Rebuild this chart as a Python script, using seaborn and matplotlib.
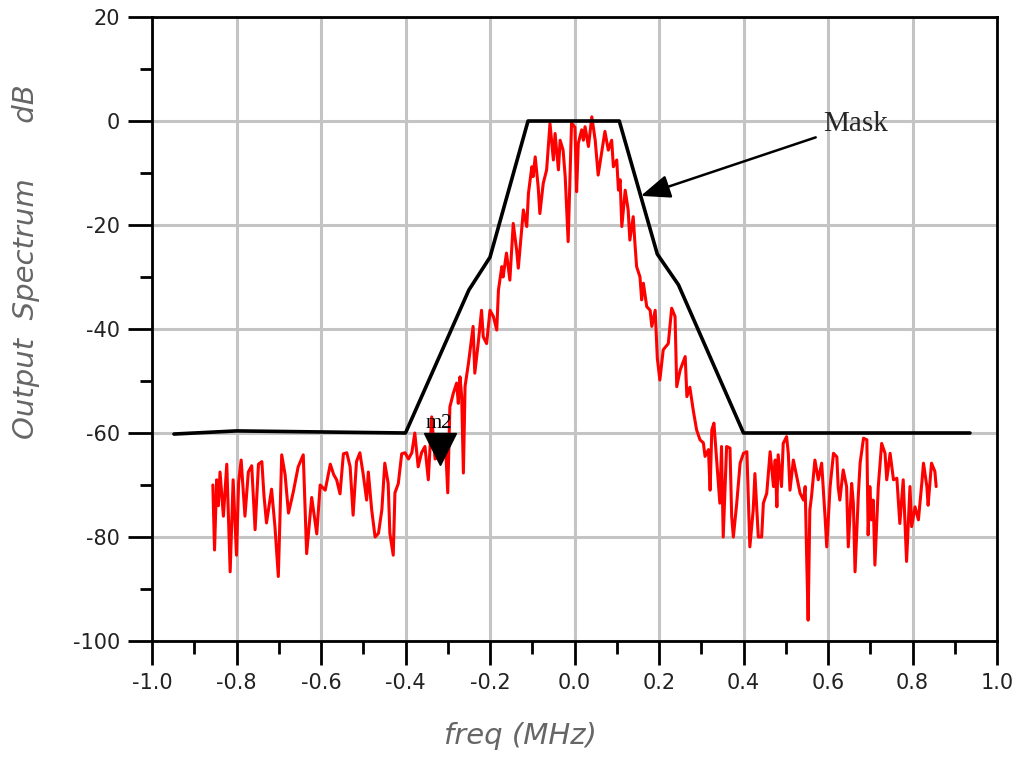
import numpy as np
import pandas as pd
import matplotlib
matplotlib.use("Agg")
import matplotlib.pyplot as plt
from matplotlib.ticker import MultipleLocator, FormatStrFormatter
import seaborn as sns

# ---------------- data ----------------
trace_freq = [
    -0.856, -0.852, -0.847, -0.843, -0.839, -0.831, -0.823, -0.815, -0.808, -0.800,
    -0.795, -0.789, -0.780, -0.772, -0.764, -0.756, -0.748, -0.740, -0.735, -0.729,
    -0.717, -0.709, -0.701, -0.693, -0.685, -0.677, -0.666, -0.654, -0.642, -0.634,
    -0.622, -0.610, -0.602, -0.590, -0.578, -0.570,
    -0.563, -0.555, -0.547, -0.539, -0.531, -0.524, -0.516, -0.508, -0.500, -0.492,
    -0.488, -0.480, -0.472, -0.464, -0.456, -0.449, -0.441, -0.437, -0.429, -0.425,
    -0.417, -0.409, -0.401, -0.393, -0.385, -0.378, -0.370, -0.362, -0.354, -0.346,
    -0.338, -0.330, -0.322, -0.314, -0.306, -0.300,
    -0.295, -0.287, -0.279, -0.275, -0.271, -0.267, -0.263, -0.259, -0.251, -0.243,
    -0.240, -0.236, -0.228, -0.220, -0.216, -0.208, -0.200, -0.192, -0.184, -0.180,
    -0.172, -0.169, -0.161, -0.153, -0.145, -0.137, -0.133, -0.125, -0.121, -0.113,
    -0.109, -0.101, -0.098, -0.093, -0.086, -0.082, -0.074, -0.066, -0.058, -0.050,
    -0.046, -0.038, -0.034, -0.027, -0.022, -0.015, -0.007,
    0.001, 0.005, 0.009, 0.017, 0.021, 0.025, 0.033, 0.041, 0.049, 0.056,
    0.064, 0.072, 0.080, 0.088, 0.092, 0.100, 0.104, 0.108, 0.112, 0.120,
    0.127, 0.131, 0.139, 0.143, 0.147, 0.155, 0.159, 0.163, 0.171, 0.179,
    0.183, 0.191, 0.196, 0.202, 0.210, 0.222, 0.230, 0.238, 0.242, 0.250,
    0.262, 0.266, 0.273,
    0.281, 0.289, 0.297, 0.305, 0.309, 0.317, 0.321, 0.325, 0.330, 0.337,
    0.344, 0.348, 0.352, 0.360, 0.368, 0.372, 0.376, 0.384, 0.392, 0.400,
    0.408, 0.411, 0.415, 0.423, 0.427, 0.435, 0.443, 0.447, 0.455, 0.463,
    0.471, 0.475, 0.479, 0.482, 0.490, 0.494, 0.502, 0.506, 0.510, 0.518,
    0.526, 0.534, 0.542, 0.546, 0.550, 0.553, 0.557,
    0.561, 0.569, 0.577, 0.585, 0.593, 0.597, 0.605, 0.613, 0.621, 0.624,
    0.628, 0.636, 0.644, 0.648, 0.656, 0.660, 0.664, 0.672, 0.676, 0.684,
    0.692, 0.695, 0.699, 0.703, 0.707, 0.711, 0.719, 0.727, 0.735, 0.739,
    0.747, 0.755, 0.763, 0.770, 0.778, 0.786, 0.794, 0.798, 0.806, 0.814,
    0.822, 0.826, 0.834, 0.837, 0.845, 0.853, 0.856,
]
trace_db = [
    -70, -82.5, -69, -74, -67.5, -76, -66, -86.7, -69, -83.5,
    -69.5, -65.2, -76, -67.5, -66.3, -78.6, -66, -65.5, -72, -77.3,
    -70.8, -78, -87.6, -64.2, -68, -75.4, -71.5, -66.5, -64.2, -83.2,
    -72.4, -79.4, -70, -71, -66, -68,
    -69, -71.7, -64, -63.8, -66.5, -75.8, -65.5, -63.8, -68, -72.9,
    -67.5, -74.8, -80, -79.3, -74.8, -65.8, -69.7, -79.3, -83.5, -71.5,
    -69.7, -64, -63.8, -65, -63.8, -60, -66.5, -63.8, -62.6, -69,
    -56.9, -65, -64.5, -63, -61, -71.5,
    -55, -52.4, -50.4, -54.3, -49.2, -53, -67.7, -51, -46.6, -41.5,
    -39.5, -48.5, -42.8, -36.4, -41.5, -42.8, -36.4, -37.6, -40.2, -32.5,
    -28, -30, -25.4, -30.6, -19.7, -24.8, -28.3, -20.9, -17.1, -20.3,
    -13.9, -8.8, -10.7, -6.9, -12.6, -17.8, -12, -9.4, -0.5, -7.5,
    -2.4, -9.4, -3.7, -5.6, -10.7, -23.2, -0.4,
    -1.2, -13.6, -4.3, -1.7, -3.7, -1.1, -4.9, 0.8, -3.7, -10.4,
    -6.2, -2, -5.6, -3.7, -8.8, -7.5, -13.3, -11.3, -20.3, -13.3,
    -17.1, -22.9, -18.4, -23.5, -28, -30, -34.4, -31.2, -35.7, -36.4,
    -39.5, -36.4, -45.6, -49.8, -44, -42.8, -36, -37.6, -51.1, -47.9,
    -45.3, -53, -51.2,
    -55.6, -59.4, -61.3, -61.9, -64.5, -63.2, -71, -59.4, -58.1, -65.8,
    -73.5, -62.6, -80, -62.6, -62.9, -76, -80, -73.5, -65.8, -63.9,
    -63.6, -71.6, -81.9, -74.8, -67.8, -80, -80, -73.5, -71.6, -63.6,
    -70.3, -65.2, -74.2, -64.2, -70.3, -62, -60.7, -63.9, -71, -65.2,
    -68.4, -71.6, -72.9, -70.3, -85.7, -96, -74.8,
    -72.2, -65.2, -69, -65.8, -76.1, -81.9, -70.3, -63.9, -64.6, -70.3,
    -72.9, -67.1, -70.3, -81.9, -69.7, -73.5, -86.7, -71.6, -65.8, -61,
    -61.3, -79.6, -70.3, -76.7, -72.9, -85.4, -70.3, -62, -63.9, -69,
    -63.9, -69, -68.7, -77.4, -69, -84.7, -70.3, -78, -74.2, -76.7,
    -69.7, -65.8, -70.3, -73.9, -65.8, -67.4, -70.3,
]

mask_freq = [-0.948, -0.8, -0.4, -0.25, -0.2, -0.11, 0.106, 0.196, 0.246, 0.4, 0.936]
mask_db = [-60.2, -59.6, -60, -32.5, -26.2, 0, 0, -25.6, -31.5, -60, -60]

marker_freq = [-0.318]
marker_db = [-63.0]
marker_label = "m2"

arrow_tip = (0.157, -14.4)
arrow_text_pos = (0.588, -0.6)
arrow_label = "Mask"

x_ticks = [-1.0, -0.8, -0.6, -0.4, -0.2, 0.0, 0.2, 0.4, 0.6, 0.8, 1.0]
y_ticks = [-100, -80, -60, -40, -20, 0, 20]
x_label = "freq (MHz)"
y_label = "Output  Spectrum      dB"

# ---------------- plotting ----------------
sns.set_style("white")
plt.rcParams["font.family"] = ["DejaVu Sans"]

fig = plt.figure(figsize=(10.24, 7.61), dpi=100)
ax = fig.add_axes([152 / 1024, 1 - 641 / 761, 845 / 1024, 624 / 761])

trace_df = pd.DataFrame({"freq": trace_freq, "db": trace_db})
mask_df = pd.DataFrame({"freq": mask_freq, "db": mask_db})

sns.lineplot(data=trace_df, x="freq", y="db", ax=ax, color="#ff0000",
             lw=2.2, sort=False, estimator=None, zorder=3)
sns.lineplot(data=mask_df, x="freq", y="db", ax=ax, color="black",
             lw=2.6, sort=False, estimator=None, zorder=4)

ax.plot(marker_freq, marker_db, marker="v", ms=23, color="black",
        linestyle="none", zorder=5)
ax.text(marker_freq[0] - 0.003, marker_db[0] + 3.0, marker_label,
        fontsize=15, family="Liberation Serif", ha="center", va="bottom",
        color="black", zorder=6)

ax.annotate(arrow_label, xy=arrow_tip, xytext=arrow_text_pos,
            fontsize=21, family="Liberation Serif", ha="left", va="center",
            arrowprops=dict(arrowstyle="-|>,head_length=0.5,head_width=0.2",
                            color="black", lw=1.8,
                            mutation_scale=36, shrinkA=3, shrinkB=0),
            zorder=6)

ax.set_xlim(-1.0, 1.0)
ax.set_ylim(-100, 20)
ax.set_xticks(x_ticks)
ax.set_yticks(y_ticks)
ax.xaxis.set_minor_locator(MultipleLocator(0.1))
ax.yaxis.set_minor_locator(MultipleLocator(10))
ax.xaxis.set_major_formatter(FormatStrFormatter("%.1f"))
ax.yaxis.set_major_formatter(FormatStrFormatter("%d"))

ax.grid(True, which="major", color="#c4c4c4", lw=2.2)
ax.set_axisbelow(True)

for s in ax.spines.values():
    s.set_color("black")
    s.set_linewidth(2.0)

ax.tick_params(which="major", direction="out", length=17, width=2,
               color="black", labelsize=15, labelcolor="#222222",
               bottom=True, left=True, top=False, right=False, pad=6)
ax.tick_params(which="minor", direction="out", length=9, width=2,
               color="black", bottom=True, left=True, top=False, right=False)

ax.set_xlabel(x_label, fontsize=21, style="italic", color="#666666")
ax.set_ylabel(y_label, fontsize=21, style="italic", color="#666666")
ax.xaxis.set_label_coords((520 - 152) / 845, (641 - 722) / 624)
ax.yaxis.set_label_coords((40 - 152) / 845, (641 - 262) / 624)

fig.savefig("out.png", dpi=100)
